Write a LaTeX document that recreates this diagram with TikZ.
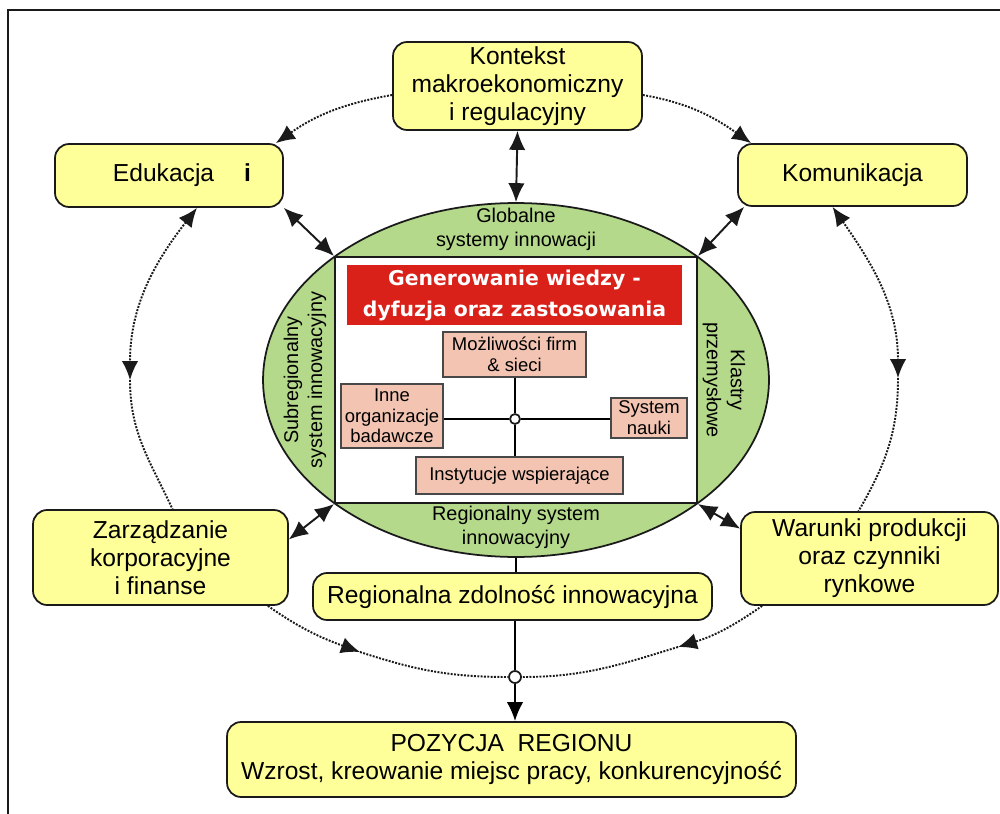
\documentclass[tikz,border=0pt]{standalone}
\usepackage{fontspec}
\setmainfont{Liberation Sans}
\newfontfamily\titlefont{DejaVu Sans}
\usetikzlibrary{arrows.meta,positioning,calc,shapes.geometric}
\definecolor{PaleYellow}{HTML}{FFFF99}
\definecolor{LeafGreen}{HTML}{B5D98B}
\definecolor{SignalRed}{HTML}{DA2119}
\definecolor{Salmon}{HTML}{F3C4B2}
\definecolor{InkBlack}{HTML}{1A1A1A}
\tikzset{
  factorbox/.style={rounded corners=8pt, draw=InkBlack, fill=PaleYellow, line width=1pt, align=center, inner sep=2pt, font=\fontsize{14}{16}\selectfont},
  partbox/.style={draw=InkBlack!80, fill=Salmon, line width=0.9pt, align=center, inner sep=1pt, font=\fontsize{10.5}{11.8}\selectfont},
  ringlabel/.style={align=center, inner sep=0pt, font=\fontsize{11.3}{13.6}\selectfont},
  biarrow/.style={{Latex[length=3.8mm,width=3.3mm]}-{Latex[length=3.8mm,width=3.3mm]}, line width=1.1pt, draw=InkBlack},
  headed/.style={-{Latex[length=3.8mm,width=3.3mm]}},
  headboth/.style={{Latex[length=3.8mm,width=3.3mm]}-{Latex[length=3.8mm,width=3.3mm]}},
  dotflow/.style={dash pattern=on 1.1pt off 0.8pt, line width=1.1pt, draw=InkBlack},
  hubdot/.style={circle, draw=InkBlack, fill=white, line width=1pt, inner sep=0pt, minimum size=2.4mm}
}
\begin{document}
\begin{tikzpicture}[x=0.02cm, y=0.02cm]
\useasboundingbox (0,0) rectangle (1000,-814);
\draw[line width=1.2pt, InkBlack] (8,-814) -- (8,-10) -- (1000,-10);

\node[factorbox, minimum width=4.98cm, minimum height=1.76cm] (kont) at (517.5,-86) {Kontekst\\makroekonomiczny\\i regulacyjny};
\node[factorbox, minimum width=4.56cm, minimum height=1.26cm] (edu) at (169,-175.5) {\hspace*{0.52cm}Edukacja\hspace{0.6cm}\textbf{i}};
\node[factorbox, minimum width=4.58cm, minimum height=1.24cm] (komu) at (852.5,-175) {Komunikacja};
\node[factorbox, minimum width=5.1cm, minimum height=1.9cm] (zarz) at (160.5,-557.5) {Zarządzanie\\korporacyjne\\i finanse};
\node[factorbox, minimum width=5.14cm, minimum height=1.86cm] (warunki) at (869.5,-558.5) {Warunki produkcji\\oraz czynniki\\rynkowe};
\node[factorbox, minimum width=7.98cm, minimum height=0.94cm] (rzi) at (512.5,-596.5) {Regionalna zdolność innowacyjna};
\node[factorbox, minimum width=11.38cm, minimum height=1.5cm] (poz) at (511.5,-759.5) {POZYCJA\ \ REGIONU\\Wzrost, kreowanie miejsc pracy, konkurencyjność};

\node[ellipse, draw=InkBlack, fill=LeafGreen, line width=1pt, inner sep=0pt, minimum width=10.12cm, minimum height=7.08cm] (isr) at (516,-380) {};
\node[draw=InkBlack, fill=white, line width=1.2pt, inner sep=0pt, minimum width=7.24cm, minimum height=4.92cm] (core) at (516,-380) {};
\node[ringlabel] (glob) at (516,-229) {Globalne\\systemy innowacji};
\node[ringlabel] (reg) at (516,-527) {Regionalny system\\innowacyjny};
\node[ringlabel, rotate=90] (sub) at (305,-380) {Subregionalny\\system innowacyjny};
\node[ringlabel, rotate=-90] (klas) at (724,-380) {Klastry\\przemysłowe};

\node[fill=SignalRed, text=white, align=center, inner sep=0pt, minimum width=6.7cm, minimum height=1.2cm, font=\titlefont\bfseries\fontsize{11.6}{17.6}\selectfont] (title) at (514.5,-295) {Generowanie wiedzy -\\dyfuzja oraz zastosowania};

\node[partbox, minimum width=2.86cm, minimum height=0.9cm] (firm) at (514.5,-354.5) {Możliwości firm\\\& sieci};
\node[partbox, minimum width=2.04cm, minimum height=1.28cm] (inne) at (392,-416) {Inne\\organizacje\\badawcze};
\node[partbox, minimum width=1.52cm, minimum height=0.8cm] (nauki) at (649,-418) {System\\nauki};
\node[partbox, minimum width=4.14cm, minimum height=0.74cm] (inst) at (519.5,-475.5) {Instytucje wspierające};
\node[hubdot, minimum size=2mm] (mid) at (515,-419) {};

\draw[line width=1pt] (mid) -- (mid |- firm.south);
\draw[line width=1pt] (mid) -- (mid |- inst.north);
\draw[line width=1pt] (mid) -- (mid -| inne.east);
\draw[line width=1pt] (mid) -- (mid -| nauki.west);

\draw[biarrow] (kont.south) -- (isr.north);
\draw[biarrow] (edu.south east) -- (core.north west);
\draw[biarrow] ($(komu.south west)+(7,0)$) -- (core.north east);
\draw[biarrow] (zarz.8) -- (core.south west);
\draw[biarrow] (warunki.167) -- (core.south east);

\node[hubdot] (out) at (515,-677) {};
\draw[line width=1.1pt] (isr.south) -- (isr.south |- rzi.north);
\draw[line width=1.1pt] (out |- rzi.south) -- (out);
\draw[line width=1.1pt, headed] (out) -- (out |- poz.north);

\coordinate (lmid) at (130,-380);
\coordinate (rmid) at (898,-378);
\coordinate (lbot) at (360,-652);
\coordinate (rbot) at (678,-647);

\draw[dotflow, headed] ($(kont.west)+(0,-9)$) to[out=190, in=35] ($(edu.north east)+(-8,0)$);
\draw[dotflow, headed] ($(kont.east)+(0,-9)$) to[out=-10, in=145] ($(komu.north west)+(14,0)$);
\draw[dotflow, headboth] ($(edu.south)+(28,0)$) to[out=232, in=90] (lmid);
\draw[dotflow] (lmid) to[out=-90, in=115] ($(zarz.north)+(12,0)$);
\draw[dotflow, headboth] ($(komu.south)+(-20,0)$) to[out=-55, in=90] (rmid);
\draw[dotflow] (rmid) to[out=-90, in=60] ($(warunki.north)+(-11,0)$);
\draw[dotflow, headed] ($(zarz.south east)+(-21,0)$) to[out=-35, in=160] (lbot);
\draw[dotflow] (lbot) to[out=-18, in=180] (out);
\draw[dotflow, headed] ($(warunki.south west)+(22,0)$) to[out=215, in=17] (rbot);
\draw[dotflow] (rbot) to[out=197, in=0] (out);
\end{tikzpicture}
\end{document}
